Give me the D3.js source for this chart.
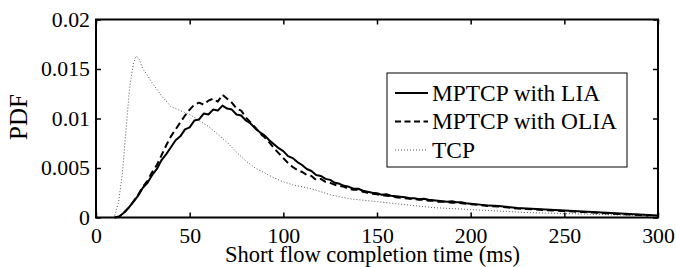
<!DOCTYPE html>
<html>
<head>
<meta charset="utf-8">
<script src="https://cdn.jsdelivr.net/npm/d3@7"></script>
<style>
  html, body { margin: 0; padding: 0; background: #fff; }
  svg { display: block; }
</style>
</head>
<body>
<svg id="chart"></svg>
<script>
// completion time grid (ms) shared by the two MPTCP curves
const mpTimes = [10,12.5,15,17.5,20,22.5,25,27.5,30,32.5,35,37.5,40,42.5,45,47.5,50,52.5,55,57.5,
  60,62.5,65,67.5,70,72.5,75,77.5,80,82.5,85,87.5,90,92.5,95,97.5,100,102.5,105,107.5,
  110,112.5,115,117.5,120,122.5,125,127.5,130,132.5,135,137.5,140,142.5,145,147.5,150,152.5,155,157.5,
  160,162.5,165,167.5,170,172.5,175,177.5,180,182.5,185,187.5,190,192.5,195,197.5,200,
  205,210,215,220,225,230,235,240,245,250,255,260,265,270,275,280,285,290,295,300];

// PDF values in units of 1e-3
const liaPdf = [0.0,0.1,0.5,1.0,1.6,2.2,3.0,3.5,4.3,4.9,5.8,6.4,7.1,7.8,8.2,8.9,9.1,9.8,9.9,10.5,
  10.4,10.9,10.8,11.3,11.0,10.9,10.4,10.3,9.8,9.5,9.0,8.6,8.3,7.8,7.4,7.0,6.7,6.2,6.0,5.6,
  5.3,4.9,4.7,4.3,4.2,3.9,3.8,3.5,3.4,3.2,3.1,2.9,2.9,2.7,2.6,2.5,2.45,2.3,2.35,2.2,
  2.15,2.1,2.05,1.95,1.95,1.85,1.9,1.8,1.75,1.7,1.65,1.6,1.65,1.55,1.55,1.45,1.4,
  1.3,1.2,1.15,1.05,0.95,0.9,0.85,0.8,0.75,0.7,0.65,0.6,0.55,0.5,0.45,0.4,0.35,0.3,0.25,0.2];

const oliaPdf = [0.0,0.1,0.5,1.0,1.6,2.3,3.1,3.7,4.6,5.3,6.3,7.3,8.2,8.9,9.6,10.3,10.9,11.4,11.6,11.4,
  11.8,12.0,11.7,12.4,12.0,11.6,11.0,10.8,10.1,9.6,9.1,8.5,8.1,7.6,7.0,6.5,6.0,5.5,5.1,4.8,
  4.6,4.3,4.2,3.8,3.9,3.6,3.5,3.3,3.2,3.1,2.9,2.8,2.8,2.6,2.5,2.4,2.35,2.25,2.2,2.15,
  2.05,2.0,1.95,1.9,1.85,1.8,1.8,1.7,1.7,1.6,1.6,1.55,1.5,1.5,1.45,1.4,1.35,
  1.25,1.15,1.1,1.0,0.9,0.85,0.8,0.75,0.7,0.65,0.6,0.55,0.5,0.45,0.4,0.35,0.3,0.25,0.2];

const tcpTimes = [10,12,14,16,18,20,21.5,23,25,27,30,35,40,45,50,55,60,65,70,75,80,85,90,95,100,
  105,110,115,120,125,130,135,140,145,150,160,170,180,190,200,210,220,230,240,250,260,270,280,290,300];
const tcpPdf = [0.2,1.5,4.3,8.8,13.2,15.6,16.3,16.0,15.0,14.5,13.6,12.3,11.2,10.8,10.4,9.8,9.2,8.4,7.6,6.6,
  5.7,5.0,4.5,4.0,3.6,3.3,3.1,2.9,2.6,2.3,2.1,1.9,1.8,1.7,1.6,1.4,1.2,1.0,0.9,0.8,
  0.7,0.6,0.5,0.45,0.4,0.35,0.3,0.25,0.2,0.15];

const xTicks = [0, 50, 100, 150, 200, 250, 300];
const yTicks = [0, 0.005, 0.01, 0.015, 0.02];
const seriesNames = ["MPTCP with LIA", "MPTCP with OLIA", "TCP"];

const serif = '"Liberation Serif", "Times New Roman", serif';
const width = 676, height = 267;
const margin = { left: 96, right: 18, top: 19.5, bottom: 49.5 };
const innerW = width - margin.left - margin.right;
const innerH = height - margin.top - margin.bottom;

const svg = d3.select("#chart")
  .attr("width", width).attr("height", height)
  .attr("font-family", serif);

const x = d3.scaleLinear().domain([0, 300]).range([0, innerW]);
const y = d3.scaleLinear().domain([0, 0.02]).range([innerH, 0]);

const g = svg.append("g").attr("transform", `translate(${margin.left},${margin.top})`);

const styles = [
  { stroke: "#000", width: 2, dash: null },
  { stroke: "#000", width: 2, dash: "7,4" },
  { stroke: "#555", width: 1, dash: "1,2" }
];

const series = [
  mpTimes.map((t, i) => [t, liaPdf[i] / 1000]),
  mpTimes.map((t, i) => [t, oliaPdf[i] / 1000]),
  tcpTimes.map((t, i) => [t, tcpPdf[i] / 1000])
];

const line = d3.line().x(d => x(d[0])).y(d => y(d[1]));

// TCP first so the MPTCP curves sit on top
[2, 1, 0].forEach(i => {
  g.append("path")
    .datum(series[i])
    .attr("fill", "none")
    .attr("stroke", styles[i].stroke)
    .attr("stroke-width", styles[i].width)
    .attr("stroke-dasharray", styles[i].dash)
    .attr("stroke-linejoin", "round")
    .attr("d", line);
});

const axes = {
  x: d3.axisBottom(x).tickValues(xTicks).tickSizeInner(-5).tickSizeOuter(0).tickPadding(10).tickFormat(d3.format("d")),
  y: d3.axisLeft(y).tickValues(yTicks).tickSizeInner(-5).tickSizeOuter(0).tickPadding(6).tickFormat(d => d === 0 ? "0" : String(+d.toFixed(3))),
  xTop: d3.axisTop(x).tickValues(xTicks).tickSizeInner(-5).tickSizeOuter(0).tickFormat(""),
  yRight: d3.axisRight(y).tickValues(yTicks).tickSizeInner(-5).tickSizeOuter(0).tickFormat("")
};

g.append("g").attr("class", "axis").attr("transform", `translate(0,${innerH})`).call(axes.x);
g.append("g").attr("class", "axis").call(axes.y);
g.append("g").attr("class", "axis").call(axes.xTop);
g.append("g").attr("class", "axis").attr("transform", `translate(${innerW},0)`).call(axes.yRight);

g.selectAll(".axis").attr("font-family", null).attr("font-size", null);
g.selectAll(".axis .domain").remove();
g.selectAll(".axis line").attr("stroke", "#000").attr("stroke-width", 1.5);
g.selectAll(".axis text")
  .attr("fill", "#000")
  .style("font-family", serif)
  .style("font-size", "21.8px");

g.append("rect")
  .attr("width", innerW).attr("height", innerH)
  .attr("fill", "none").attr("stroke", "#000").attr("stroke-width", 2);

// axis titles
svg.append("text")
  .attr("x", 372.5).attr("y", 261.5)
  .attr("text-anchor", "middle")
  .style("font-family", serif)
  .style("font-size", "22.5px")
  .text("Short flow completion time (ms)");

svg.append("text")
  .attr("transform", "translate(27,117) rotate(-90)")
  .attr("text-anchor", "middle")
  .style("font-family", serif)
  .style("font-size", "25px")
  .text("PDF");

// legend
const legend = svg.append("g").attr("transform", "translate(387,73)");
legend.append("rect")
  .attr("width", 240).attr("height", 94)
  .attr("fill", "#fff").attr("stroke", "#000").attr("stroke-width", 1);

seriesNames.forEach((name, i) => {
  const row = legend.append("g").attr("transform", `translate(0,${20 + i * 28.5})`);
  row.append("line")
    .attr("x1", 8).attr("x2", 41).attr("y1", 0).attr("y2", 0)
    .attr("stroke", styles[i].stroke)
    .attr("stroke-width", styles[i].width)
    .attr("stroke-dasharray", i === 1 ? "6,3.5" : styles[i].dash);
  row.append("text")
    .attr("x", 45).attr("y", 7.5)
    .attr("fill", "#000")
    .style("font-family", serif)
    .style("font-size", "23.4px")
    .text(name);
});
</script>
</body>
</html>
